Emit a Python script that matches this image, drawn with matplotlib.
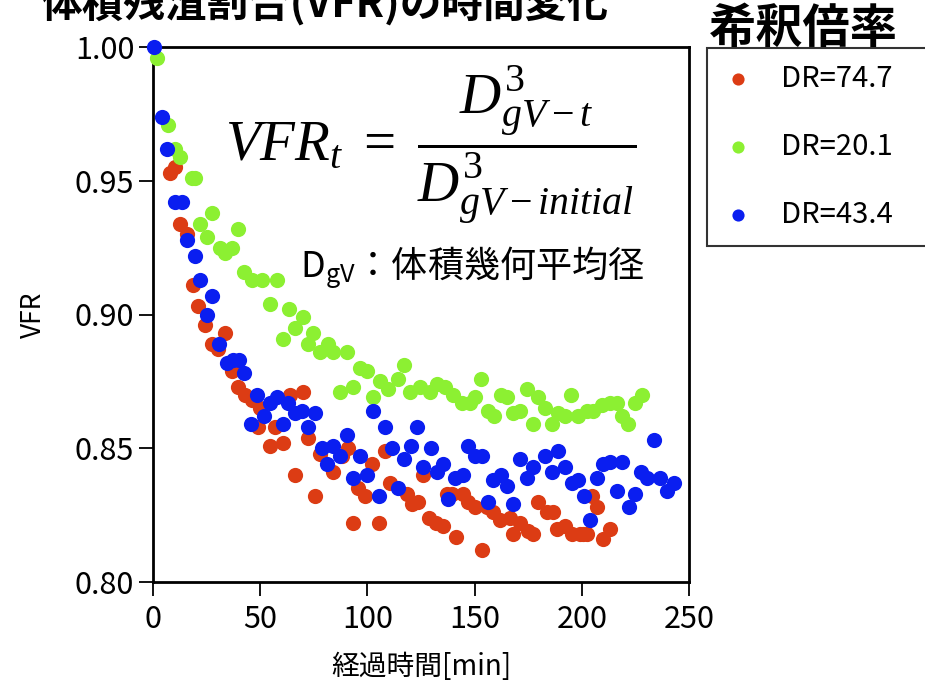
import matplotlib
matplotlib.use("Agg")
import matplotlib.pyplot as plt

plt.rcParams["font.family"] = ["Noto Sans CJK JP", "DejaVu Sans"]
plt.rcParams["mathtext.fontset"] = "custom"
plt.rcParams["mathtext.it"] = "Liberation Serif:italic"
plt.rcParams["mathtext.rm"] = "Liberation Serif"
plt.rcParams["mathtext.sf"] = "Noto Sans CJK JP"

# --- DR=74.7 (rot) ---
t_747 = [7.9, 10.3, 12.6, 15.9, 18.7, 21.0, 24.3, 27.5, 30.4, 33.6, 36.8, 39.6, 42.9, 46.2,
         49.0, 49.9, 54.6, 56.9, 60.6, 63.9, 66.2, 70.0, 72.3, 75.6, 77.9, 84.0, 88.0, 91.0,
         93.3, 95.6, 98.9, 102.0, 105.4, 108.0, 110.5, 118.5, 120.8, 123.6, 125.9, 128.7,
         132.0, 135.3, 137.0, 139.5, 141.3, 144.6, 146.9, 150.2, 153.4, 155.8, 158.6, 161.8,
         166.5, 167.9, 171.2, 174.9, 177.2, 179.6, 183.8, 186.6, 188.4, 192.2, 195.4, 199.2,
         200.6, 202.4, 204.8, 207.1, 209.9, 213.2]
vfr_747 = [0.953, 0.955, 0.934, 0.930, 0.911, 0.903, 0.896, 0.889, 0.887, 0.893, 0.879, 0.873,
           0.870, 0.868, 0.858, 0.865, 0.851, 0.858, 0.852, 0.870, 0.840, 0.871, 0.854, 0.832,
           0.848, 0.841, 0.847, 0.850, 0.822, 0.835, 0.832, 0.844, 0.822, 0.849, 0.837, 0.833,
           0.829, 0.830, 0.840, 0.824, 0.822, 0.821, 0.833, 0.833, 0.817, 0.833, 0.830, 0.828,
           0.812, 0.828, 0.826, 0.823, 0.824, 0.818, 0.822, 0.819, 0.818, 0.830, 0.826, 0.826,
           0.820, 0.821, 0.818, 0.818, 0.818, 0.818, 0.832, 0.828, 0.816, 0.820]

# --- DR=20.1 (gruen) ---
t_201 = [1.9, 7.0, 10.3, 12.6, 18.2, 19.6, 21.9, 25.2, 27.5, 31.3, 33.6, 36.8, 39.6, 42.4,
         46.2, 50.8, 54.6, 57.8, 60.6, 63.4, 66.2, 70.0, 72.3, 74.6, 77.9, 81.6, 84.0, 87.2,
         90.5, 93.3, 96.5, 99.8, 102.6, 105.9, 109.6, 114.3, 117.1, 119.9, 124.5, 129.2,
         132.5, 136.2, 139.9, 144.1, 147.8, 150.2, 153.0, 156.2, 159.0, 162.3, 165.1, 167.9,
         171.2, 174.4, 177.2, 179.6, 182.8, 186.1, 188.9, 192.2, 194.9, 198.2, 202.4, 205.2,
         209.4, 213.2, 216.4, 218.7, 221.5, 224.8, 228.1]
vfr_201 = [0.996, 0.971, 0.962, 0.959, 0.951, 0.951, 0.934, 0.929, 0.938, 0.925, 0.923, 0.925,
           0.932, 0.916, 0.913, 0.913, 0.904, 0.913, 0.891, 0.902, 0.895, 0.899, 0.889, 0.893,
           0.886, 0.889, 0.886, 0.871, 0.886, 0.873, 0.880, 0.879, 0.869, 0.875, 0.872, 0.876,
           0.881, 0.871, 0.873, 0.871, 0.874, 0.873, 0.870, 0.867, 0.867, 0.869, 0.876, 0.864,
           0.862, 0.870, 0.869, 0.863, 0.864, 0.872, 0.859, 0.869, 0.865, 0.859, 0.863, 0.862,
           0.870, 0.862, 0.864, 0.864, 0.866, 0.867, 0.867, 0.862, 0.859, 0.867, 0.870]

# --- DR=43.4 (blau) ---
t_434 = [0.5, 4.0, 6.5, 10.3, 13.5, 15.9, 19.6, 21.9, 25.2, 27.5, 30.8, 34.5, 37.3, 40.1,
         42.4, 45.7, 48.5, 51.8, 54.6, 57.8, 60.6, 63.0, 66.2, 69.5, 72.3, 75.6, 78.8, 81.2,
         84.0, 87.2, 90.5, 93.3, 96.5, 99.8, 102.6, 105.4, 108.2, 111.5, 114.3, 117.1, 120.3,
         123.1, 125.9, 129.7, 132.5, 135.3, 137.6, 140.9, 144.6, 146.9, 150.2, 153.4, 156.2,
         158.6, 162.3, 165.1, 167.9, 171.2, 174.4, 177.2, 182.8, 186.1, 188.9, 192.2, 195.4,
         198.2, 201.0, 203.8, 207.1, 209.9, 213.2, 216.4, 218.7, 222.0, 224.8, 227.6, 230.4,
         233.7, 236.5, 239.7, 243.0]
vfr_434 = [1.000, 0.974, 0.962, 0.942, 0.942, 0.928, 0.922, 0.913, 0.900, 0.907, 0.889, 0.882,
           0.883, 0.883, 0.878, 0.859, 0.870, 0.862, 0.867, 0.869, 0.859, 0.867, 0.863, 0.864,
           0.858, 0.863, 0.850, 0.844, 0.851, 0.847, 0.855, 0.839, 0.847, 0.840, 0.864, 0.832,
           0.858, 0.850, 0.835, 0.846, 0.851, 0.858, 0.843, 0.850, 0.841, 0.844, 0.831, 0.839,
           0.840, 0.851, 0.847, 0.847, 0.830, 0.838, 0.840, 0.836, 0.829, 0.846, 0.839, 0.843,
           0.847, 0.841, 0.849, 0.843, 0.837, 0.838, 0.832, 0.823, 0.839, 0.844, 0.845, 0.834,
           0.845, 0.828, 0.833, 0.841, 0.839, 0.853, 0.839, 0.834, 0.837]

x_ticks = [0, 50, 100, 150, 200, 250]
y_ticks = [0.80, 0.85, 0.90, 0.95, 1.00]

fig = plt.figure(figsize=(9.25, 6.84), dpi=100)
ax = fig.add_axes([153 / 925, 1 - 582 / 684, (689 - 153) / 925, (582 - 47) / 684])

ax.scatter(t_747, vfr_747, s=120, color="#dc3c14", linewidths=0, label="DR=74.7", clip_on=False, zorder=3)
ax.scatter(t_201, vfr_201, s=120, color="#8cf032", linewidths=0, label="DR=20.1", clip_on=False, zorder=3)
ax.scatter(t_434, vfr_434, s=120, color="#0a1ef0", linewidths=0, label="DR=43.4", clip_on=False, zorder=3)

ax.set_xlim(0, 250)
ax.set_ylim(0.80, 1.00)
ax.set_xticks(x_ticks)
ax.set_yticks(y_ticks)
ax.set_yticklabels([f"{v:.2f}" for v in y_ticks])
ax.tick_params(direction="out", length=10, width=1.3, labelsize=22, colors="black")
ax.tick_params(axis="x", pad=6)
for sp in ax.spines.values():
    sp.set_linewidth(2)

ax.set_xlabel("経過時間[min]", fontsize=20, labelpad=12)
ax.set_ylabel("VFR", fontsize=19, labelpad=20)

# Formel
fig.text(431 / 925, 1 - 145 / 684, r"$VFR_t\ =\ \dfrac{D^3_{gV-t}}{D^3_{gV-initial}}$",
         fontsize=41, ha="center", va="center")
fig.text(300 / 925, 1 - 268 / 684, r"D$_{\mathsf{gV}}$：体積幾何平均径", fontsize=26,
         ha="left", va="center")

# Titel (oben abgeschnitten)
fig.text(40 / 925, 1 - 17 / 684, "体積残渣割合(VFR)の時間変化", fontsize=30,
         fontweight="bold", ha="left", va="baseline")

# Legende
leg = fig.legend(loc="upper left", bbox_to_anchor=(707 / 925, 0.0, 0.30, 1 - 48 / 684),
                 mode="expand", fontsize=21, frameon=True, fancybox=False, markerscale=0.8,
                 labelspacing=1.3, handlelength=1.0, handletextpad=1.0, borderpad=0.55,
                 borderaxespad=0)
leg.get_frame().set_edgecolor("black")
leg.get_frame().set_linewidth(1.5)
fig.text(709 / 925, 1 - 43 / 684, "希釈倍率", fontsize=34, fontweight="bold",
         ha="left", va="baseline")

plt.savefig("out.png", dpi=100, facecolor="white")
